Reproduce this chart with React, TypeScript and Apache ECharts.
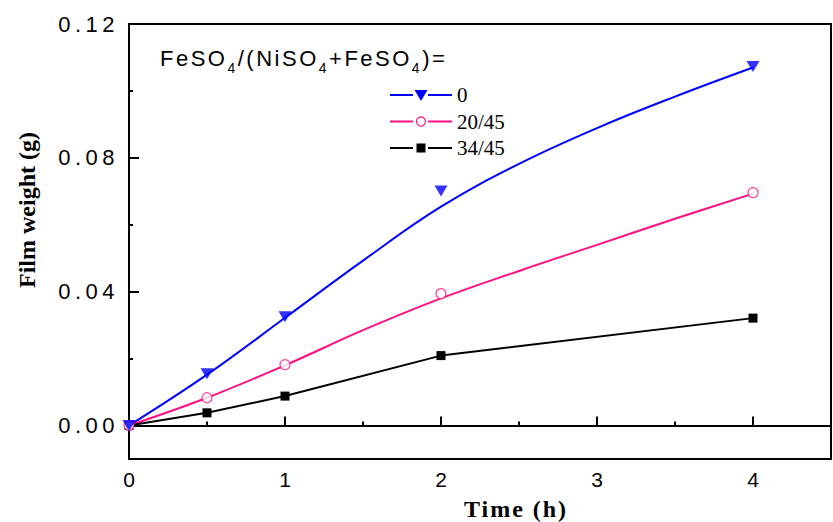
import React, { useEffect, useRef } from "react";
import * as echarts from "echarts";

// Data
const timeMarkers = [0, 0.5, 1, 2, 4];
const w0Markers = [0, 0.0155, 0.0325, 0.0701, 0.1073];
const w20Markers = [0, 0.0083, 0.0182, 0.0394, 0.0696];
const w34Markers = [0, 0.0038, 0.0088, 0.0209, 0.0321];

// fitted curves
const curveTimes = [0, 0.5, 1, 1.5, 2, 2.5, 3, 3.5, 4];
const w0Curve = [0, 0.0152, 0.0322, 0.0493, 0.0654, 0.0782, 0.0889, 0.0983, 0.107];
const w20Curve = [0, 0.0083, 0.018, 0.0285, 0.038, 0.0462, 0.054, 0.0618, 0.0693];

const xMajor = [0, 1, 2, 3, 4];
const xMinor = [0.5, 1.5, 2.5, 3.5];
const yMajor = [0, 0.04, 0.08, 0.12];
const yMinor = [0.02, 0.06, 0.1];

const legendLabels = ["0", "20/45", "34/45"];
const titleSegments = ["FeSO", "4", "/(NiSO", "4", "+FeSO", "4", ")="];

const BLUE = "#0000ff";
const PINK = "#ff0f80";
const BLACK = "#000000";

// "trackedA/B/C" are not real fonts: they only tag texts for CSS letter-spacing
const SANS_TRACK = "trackedA, 'Liberation Sans'";
const SERIF_TRACK = "trackedB, 'Liberation Serif'";
const TITLE_TRACK = "trackedC, 'Liberation Sans'";
const TITLE_SPACING = 2.5;

const zip = (xs: number[], ys: number[]) => xs.map((x, i) => [x, ys[i]]);

function measure(text: string, font: string) {
  const c = document.createElement("canvas").getContext("2d")!;
  c.font = font;
  return c.measureText(text).width;
}

export default function App() {
  const ref = useRef<HTMLDivElement>(null);
  useEffect(() => {
    if (!ref.current) return;
    const chart = echarts.init(ref.current, undefined, { renderer: "svg" });
    const axisLine = { show: true, lineStyle: { color: BLACK, width: 2 } };
    const tickStyle = { color: BLACK, width: 2 };

    // legend
    const legendRows = [95, 121.5, 148];
    const legendColors = [BLUE, PINK, BLACK];
    const legendGraphics: any[] = [];
    legendRows.forEach((y, i) => {
      const c = legendColors[i];
      legendGraphics.push({
        type: "line",
        shape: { x1: 390, y1: y, x2: 413, y2: y },
        style: { stroke: c, lineWidth: 2 },
      });
      legendGraphics.push({
        type: "line",
        shape: { x1: 428, y1: y, x2: 452, y2: y },
        style: { stroke: c, lineWidth: 2 },
      });
      if (i === 0) {
        legendGraphics.push({
          type: "polygon",
          shape: { points: [[414.5, y - 5], [427.5, y - 5], [421, y + 6]] },
          style: { fill: BLUE },
        });
      } else if (i === 1) {
        legendGraphics.push({
          type: "circle",
          shape: { cx: 421, cy: y, r: 4.5 },
          style: { fill: "#fff", stroke: PINK, lineWidth: 1.2 },
        });
      } else {
        legendGraphics.push({
          type: "rect",
          shape: { x: 416.5, y: y - 4.5, width: 9, height: 9 },
          style: { fill: BLACK },
        });
      }
      legendGraphics.push({
        type: "text",
        x: 457,
        y: y,
        style: {
          text: legendLabels[i],
          font: '21px "Liberation Serif"',
          fill: BLACK,
          align: "left",
          verticalAlign: "middle",
        },
      });
    });

    // legend title with subscripts
    const titleGraphics: any[] = [];
    let tx = 160;
    titleSegments.forEach((seg, i) => {
      const isSub = i % 2 === 1;
      const size = isSub ? 14 : 22;
      const font = `${size}px 'Liberation Sans'`;
      titleGraphics.push({
        type: "text",
        x: tx,
        y: isSub ? 68 : 58,
        style: {
          text: seg,
          fontFamily: TITLE_TRACK,
          fontSize: size,
          fill: BLACK,
          align: "left",
          verticalAlign: "middle",
        },
      });
      tx += measure(seg, font) + TITLE_SPACING * seg.length;
    });

    chart.setOption({
      animation: false,
      backgroundColor: "#fff",
      grid: {
        left: 129,
        right: 2,
        top: 24,
        bottom: 63,
        show: true,
        borderColor: BLACK,
        borderWidth: 2,
      },
      xAxis: [
        {
          type: "value",
          min: 0,
          max: 4.5,
          axisLine,
          splitLine: { show: false },
          axisTick: {
            show: true,
            inside: true,
            length: 9,
            customValues: xMajor,
            lineStyle: tickStyle,
          },
          axisLabel: {
            customValues: xMajor,
            color: BLACK,
            fontFamily: "Liberation Sans",
            fontSize: 21,
            margin: 10,
          },
        },
        {
          type: "value",
          min: 0,
          max: 4.5,
          position: "bottom",
          axisLine: { show: false },
          splitLine: { show: false },
          axisTick: {
            show: true,
            inside: true,
            length: 4,
            customValues: xMinor,
            lineStyle: tickStyle,
          },
          axisLabel: { show: false },
        },
      ],
      yAxis: [
        {
          type: "value",
          min: -0.01,
          max: 0.12,
          axisLine,
          splitLine: { show: false },
          axisTick: {
            show: true,
            inside: true,
            length: 10,
            customValues: yMajor,
            lineStyle: tickStyle,
          },
          axisLabel: {
            customValues: yMajor,
            formatter: (v: number) => v.toFixed(2),
            color: BLACK,
            fontFamily: SANS_TRACK,
            fontSize: 22,
            margin: 10,
          },
        },
        {
          type: "value",
          min: -0.01,
          max: 0.12,
          position: "left",
          axisLine: { show: false },
          splitLine: { show: false },
          axisTick: {
            show: true,
            inside: true,
            length: 4,
            customValues: yMinor,
            lineStyle: tickStyle,
          },
          axisLabel: { show: false },
        },
      ],
      series: [
        {
          name: "0 curve",
          type: "line",
          smooth: 0.4,
          showSymbol: false,
          data: zip(curveTimes, w0Curve),
          lineStyle: { color: BLUE, width: 2 },
          z: 2,
        },
        {
          name: "20/45 curve",
          type: "line",
          smooth: 0.4,
          showSymbol: false,
          data: zip(curveTimes, w20Curve),
          lineStyle: { color: PINK, width: 2 },
          z: 2,
        },
        {
          name: "34/45",
          type: "line",
          data: zip(timeMarkers, w34Markers),
          lineStyle: { color: BLACK, width: 2 },
          symbol: "rect",
          symbolSize: 9,
          showAllSymbol: true,
          itemStyle: { color: BLACK },
          z: 3,
        },
        {
          name: "20/45",
          type: "scatter",
          data: zip(timeMarkers, w20Markers),
          symbol: "circle",
          symbolSize: 10,
          itemStyle: { color: "#fff", borderColor: PINK, borderWidth: 1.2 },
          z: 4,
        },
        {
          name: "0",
          type: "scatter",
          data: zip(timeMarkers, w0Markers),
          symbol: "triangle",
          symbolRotate: 180,
          symbolSize: [13, 11],
          itemStyle: { color: BLUE },
          z: 4,
        },
      ],
      graphic: [
        {
          type: "text",
          x: 27,
          y: 210,
          rotation: Math.PI / 2,
          style: {
            text: "Film weight (g)",
            font: 'bold 24px "Liberation Serif"',
            fill: BLACK,
            align: "center",
            verticalAlign: "middle",
          },
        },
        {
          type: "text",
          x: 516,
          y: 509,
          style: {
            text: "Time (h)",
            fontFamily: SERIF_TRACK,
            fontWeight: "bold",
            fontSize: 24,
            fill: BLACK,
            align: "center",
            verticalAlign: "middle",
          },
        },
        ...titleGraphics,
        ...legendGraphics,
      ],
    });
    return () => chart.dispose();
  }, []);
  return (
    <>
      <style>{`
        [style*="trackedA"], [font-family*="trackedA"] { letter-spacing: 4.5px; }
        [style*="trackedB"], [font-family*="trackedB"] { letter-spacing: 2px; }
        [style*="trackedC"], [font-family*="trackedC"] { letter-spacing: ${TITLE_SPACING}px; }
      `}</style>
      <div
        ref={ref}
        style={{ position: "fixed", left: 0, top: 0, width: 833, height: 522 }}
      />
    </>
  );
}
